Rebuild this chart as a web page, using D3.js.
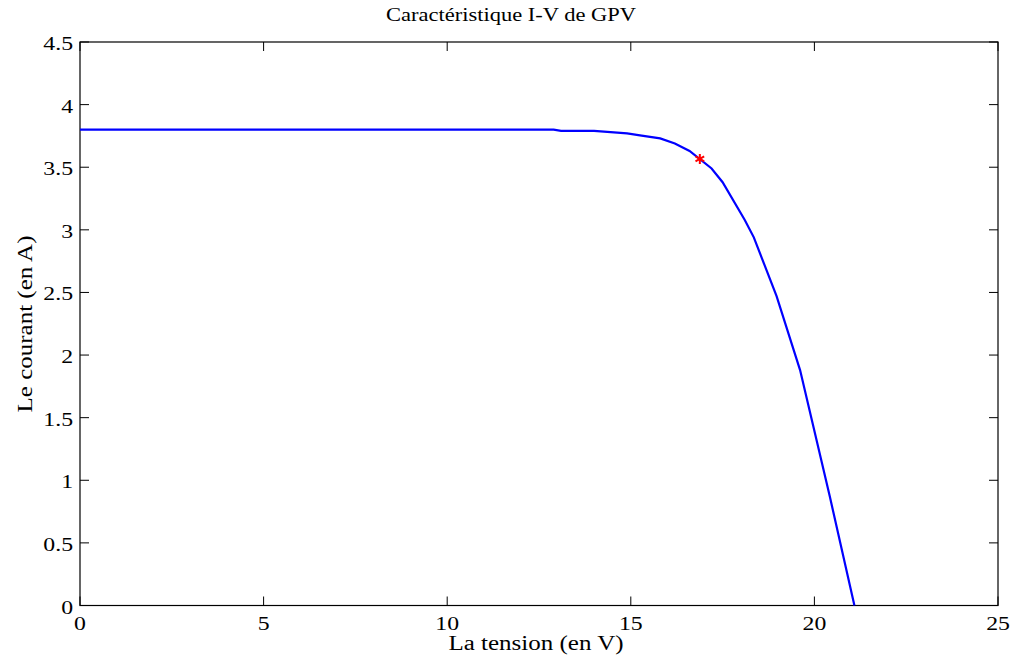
<!DOCTYPE html>
<html><head><meta charset="utf-8">
<script src="https://cdn.jsdelivr.net/npm/d3@7"></script>
<style>body{margin:0;background:#fff}svg{display:block}text{font-family:"Liberation Serif","Times New Roman",serif;fill:#000}</style>
</head><body><svg id="c" width="1011" height="660"></svg>
<script>
const voltage = [0, 12.9, 13.1, 14.0, 14.9, 15.25, 15.8, 16.2, 16.6, 17.2, 17.5, 18.1, 18.35, 18.97, 19.61, 20.42, 21.09];
const current = [3.8, 3.8, 3.79, 3.79, 3.77, 3.755, 3.73, 3.69, 3.63, 3.49, 3.38, 3.08, 2.94, 2.47, 1.88, 0.87, 0];
const mppV = [16.88];
const mppI = [3.566];
const xTicks = [0, 5, 10, 15, 20, 25];
const yTicks = [0, 0.5, 1, 1.5, 2, 2.5, 3, 3.5, 4, 4.5];
const titleText = "Caractéristique I-V de GPV";
const xLabel = "La tension (en V)";
const yLabel = "Le courant (en A)";

const svg = d3.select("#c");
const L = 80, R = 998, T = 42, B = 605.5;
const x = d3.scaleLinear().domain([0, 25]).range([L, R]);
const y = d3.scaleLinear().domain([0, 4.5]).range([B, T]);
const tl = 9;
const sx = 1.25;

// box
svg.append("rect").attr("x", L).attr("y", T).attr("width", R - L).attr("height", B - T)
  .attr("fill", "none").attr("stroke", "#000").attr("stroke-width", 1.2);

// ticks
const g = svg.append("g").attr("stroke", "#000").attr("stroke-width", 1);
xTicks.forEach(v => {
  g.append("line").attr("x1", x(v)).attr("x2", x(v)).attr("y1", B).attr("y2", B - tl);
  g.append("line").attr("x1", x(v)).attr("x2", x(v)).attr("y1", T).attr("y2", T + tl);
});
yTicks.forEach(v => {
  g.append("line").attr("x1", L).attr("x2", L + tl).attr("y1", y(v)).attr("y2", y(v));
  g.append("line").attr("x1", R).attr("x2", R - tl).attr("y1", y(v)).attr("y2", y(v));
});

// tick labels
svg.append("g").selectAll("text").data(xTicks).join("text")
  .attr("transform", d => `translate(${x(d)},630) scale(${sx},1)`).attr("text-anchor", "middle")
  .attr("font-size", 19).text(d => d3.format("")(d));
svg.append("g").selectAll("text").data(yTicks).join("text")
  .attr("transform", d => `translate(73,${y(d) + 8}) scale(${sx},1)`).attr("text-anchor", "end")
  .attr("font-size", 19).text(d => d3.format("")(d));

// curve
const pts = voltage.map((v, i) => [v, current[i]]);
svg.append("path").datum(pts)
  .attr("d", d3.line().x(d => x(d[0])).y(d => y(d[1])))
  .attr("fill", "none").attr("stroke", "#0000ff").attr("stroke-width", 2.2);

// MPP marker
mppV.forEach((v, i) => {
  svg.append("path")
    .attr("transform", `translate(${x(v)},${y(mppI[i])})`)
    .attr("d", d3.symbol().type(d3.symbolAsterisk).size(70)())
    .attr("fill", "none").attr("stroke", "#ff0000").attr("stroke-width", 2);
});

// title and labels
svg.append("text").attr("transform", `translate(511,21) scale(${sx},1)`).attr("text-anchor", "middle")
  .attr("font-size", 18).text(titleText);
svg.append("text").attr("transform", `translate(536,650) scale(${sx},1)`).attr("text-anchor", "middle")
  .attr("font-size", 20).text(xLabel);
svg.append("text").attr("transform", `translate(32,324) rotate(-90) scale(${sx},1)`).attr("text-anchor", "middle")
  .attr("font-size", 20).text(yLabel);
</script></body></html>
